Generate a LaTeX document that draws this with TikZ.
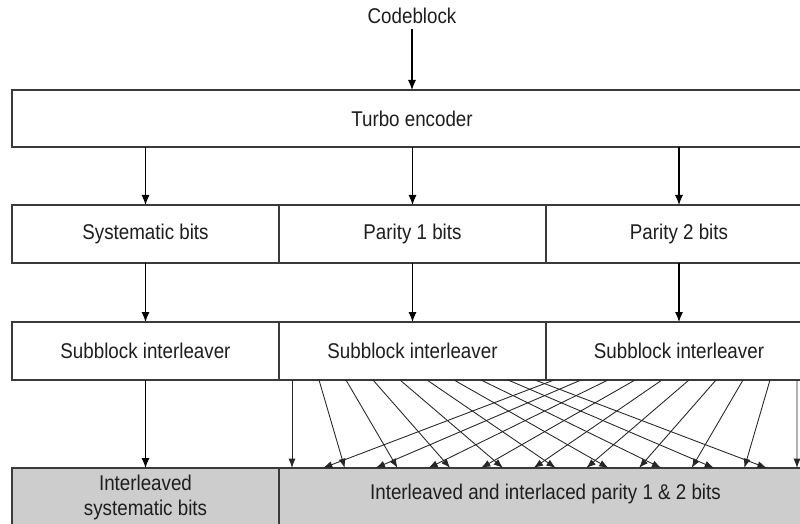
\documentclass[tikz,border=0pt]{standalone}
\usepackage{fontspec}
\setmainfont{Liberation Sans}[FakeStretch=0.88]
\usetikzlibrary{arrows.meta}
\definecolor{ink}{HTML}{1E1E1E}
\definecolor{frame}{HTML}{3A3A3A}
\definecolor{shade}{HTML}{CDCDCD}
\begin{document}
\begin{tikzpicture}[x=0.75pt,y=-0.75pt,
  lbl/.style={text=ink,font=\fontsize{16}{20}\selectfont,align=center},
  cell/.style={draw=frame,line width=1.1pt,fill=white,inner sep=0pt,outer sep=0pt,
               minimum height=58*0.75pt,lbl},
  outcell/.style={cell,fill=shade,anchor=north,minimum height=80*0.75pt},
  flow/.style={draw=black,line width=0.8pt,-{Latex[length=7.5pt,width=6pt]}},
  mix/.style={draw=black!85,line width=0.65pt,-{Latex[length=7pt,width=5.2pt]}}]
\useasboundingbox (0,0) rectangle (800,524);
\clip (0,0) rectangle (800,524);

% input and encoder
\node[lbl] (cb) at (412,16) {Codeblock};
\node[cell,minimum width=800*0.75pt,minimum height=57*0.75pt] (te) at (412,118.5) {Turbo encoder};

% encoder output streams
\node[cell,minimum width=267*0.75pt] (sys)  at (145.5,234) {Systematic bits};
\node[cell,minimum width=267*0.75pt] (par1) at (412.5,234) {Parity 1 bits};
\node[cell,minimum width=266*0.75pt] (par2) at (679,234)   {Parity 2 bits};

% subblock interleavers
\node[cell,minimum width=267*0.75pt] (sil)  at (145.5,351) {Subblock interleaver};
\node[cell,minimum width=267*0.75pt] (pil1) at (412.5,351) {Subblock interleaver};
\node[cell,minimum width=266*0.75pt] (pil2) at (679,351)   {Subblock interleaver};

% output buffer
\node[outcell,minimum width=267*0.75pt] (osys) at (145.5,468) {};
\node[outcell,minimum width=533*0.75pt] (opar) at (545.5,468) {};
\node[lbl,text depth=0pt] (osyst) at (145.5,495) {Interleaved\\[-1pt]systematic bits};
\node[lbl] (opart) at (545.5,494) {Interleaved and interlaced parity 1 \& 2 bits};

% straight connections
\draw[flow] (cb) -- (te);
\draw[flow] (te.south -| sys.north) -- (sys);
\draw[flow] (te.south -| par1.north) -- (par1);
\draw[flow] (te.south -| par2.north) -- (par2);
\draw[flow] (sys) -- (sil);
\draw[flow] (par1) -- (pil1);
\draw[flow] (par2) -- (pil2);
\draw[flow] (sil) -- (osys.north -| sil.south);

% interlacing of the two parity streams
\foreach \k in {0,...,9} {
  \coordinate (a\k) at ({292+27*\k},380);
  \coordinate (b\k) at ({554+27*\k},380);
  \coordinate (ta\k) at ({292+52.75*\k},468);
  \coordinate (tb\k) at ({323+52.667*\k},468);
  \draw[mix] (a\k) -- (ta\k);
  \draw[mix] (b\k) -- (tb\k);
}
\end{tikzpicture}
\end{document}
